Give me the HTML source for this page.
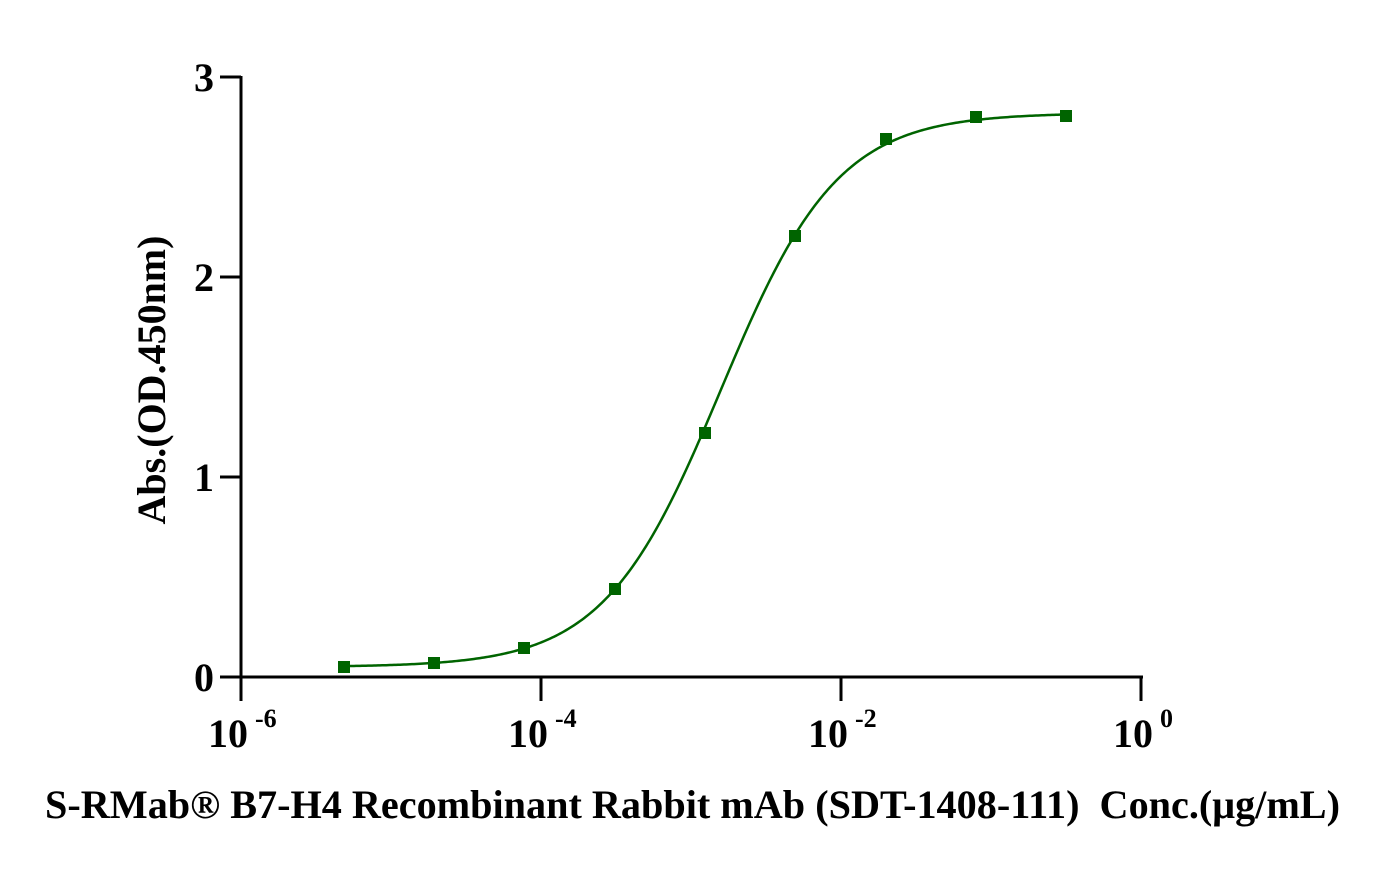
<!DOCTYPE html>
<html><head><style>body{margin:0;background:#fff}svg{display:block}</style></head><body>
<svg id="s" width="1385" height="873" xmlns="http://www.w3.org/2000/svg" font-family="'Liberation Serif',serif" font-weight="bold">
<g stroke="#000" stroke-width="3" fill="none">
<line x1="241" y1="76" x2="241" y2="679"/>
<line x1="220" y1="677" x2="1143" y2="677"/>
<line x1="220" y1="77" x2="241" y2="77"/>
<line x1="220" y1="277" x2="241" y2="277"/>
<line x1="220" y1="477" x2="241" y2="477"/>
<line x1="241" y1="677" x2="241" y2="701"/>
<line x1="541" y1="677" x2="541" y2="701"/>
<line x1="841" y1="677" x2="841" y2="701"/>
<line x1="1141" y1="677" x2="1141" y2="701"/>
</g>
<g font-size="40" text-anchor="end">
<text x="214" y="91">3</text><text x="214" y="291">2</text><text x="214" y="491">1</text><text x="214" y="691">0</text>
</g>
<g font-size="40">
<text x="208" y="747">10<tspan font-size="26" dy="-20" dx="7">-6</tspan></text>
<text x="508" y="747">10<tspan font-size="26" dy="-20" dx="7">-4</tspan></text>
<text x="808" y="747">10<tspan font-size="26" dy="-20" dx="7">-2</tspan></text>
<text x="1113" y="747">10<tspan font-size="26" dy="-20" dx="7">0</tspan></text>
</g>
<text x="0" y="0" font-size="40" text-anchor="middle" transform="translate(165,380) rotate(-90)">Abs.(OD.450nm)</text>
<text x="45" y="818" font-size="40" textLength="1295" lengthAdjust="spacingAndGlyphs">S-RMab® B7-H4 Recombinant Rabbit mAb (SDT-1408-111)&#160; Conc.(μg/mL)</text>
<path id="c" fill="none" stroke="#006400" stroke-width="2.5"/>
<g fill="#006400">
<rect x="338" y="661" width="12" height="12"/><rect x="428" y="657" width="12" height="12"/>
<rect x="518" y="642" width="12" height="12"/><rect x="609" y="583" width="12" height="12"/>
<rect x="699" y="427" width="12" height="12"/><rect x="789" y="230" width="12" height="12"/>
<rect x="880" y="133" width="12" height="12"/><rect x="970" y="111" width="12" height="12"/>
<rect x="1060" y="110" width="12" height="12"/>
</g>
<script>
var d="";for(var x=344;x<=1066;x+=2){var y=0.05+2.77/(1+Math.pow(10,(720.8-x)*0.00742));d+=(x==344?"M":"L")+x+","+(677-200*y).toFixed(2);}
document.getElementById("c").setAttribute("d",d);
</script>
</svg>
</body></html>
